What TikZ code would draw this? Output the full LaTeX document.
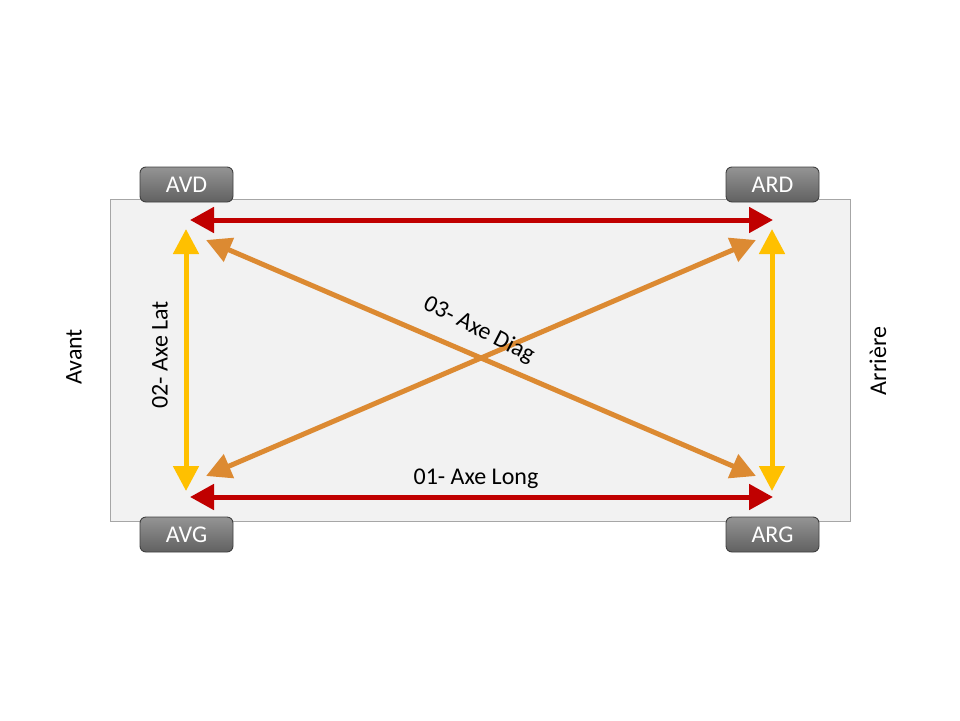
\documentclass[tikz,border=0pt]{standalone}
\usepackage{fontspec}
\setmainfont{Carlito}
\usetikzlibrary{arrows.meta}
\definecolor{redax}{HTML}{C00000}
\definecolor{yelax}{HTML}{FFC000}
\definecolor{orax}{HTML}{DC8A32}
\definecolor{bodyfill}{HTML}{F2F2F2}
\definecolor{bodyline}{HTML}{A6A6A6}
\begin{document}
\begin{tikzpicture}[x=1pt,y=-1pt,
  font=\fontsize{24}{28}\selectfont,
  wheel/.style={draw=black!75,line width=0.9pt,rounded corners=6pt,top color=black!42,bottom color=black!62,
    minimum width=93pt,minimum height=35pt,inner sep=0pt,text=white},
  axr/.style={draw=redax,line width=5pt,{Triangle[length=24pt,width=25pt]}-{Triangle[length=24pt,width=25pt]}},
  axy/.style={draw=yelax,line width=5pt,{Triangle[length=25pt,width=25pt]}-{Triangle[length=25pt,width=25pt]}},
  axo/.style={draw=orax,line width=5pt,{Triangle[length=25pt,width=25pt]}-{Triangle[length=25pt,width=25pt]}},
  lbl/.style={inner sep=0pt,text=black}]
\useasboundingbox (0,0) rectangle (960,720);
\node[draw=bodyline,fill=bodyfill,line width=0.8pt,minimum width=740pt,minimum height=322pt,inner sep=0pt] (body) at (480,360) {};
\node[wheel] (avd) at (186.5,184.5) {AVD};
\node[wheel] (ard) at (772.5,184.5) {ARD};
\node[wheel] (avg) at (186.5,534.5) {AVG};
\node[wheel] (arg) at (772.5,534.5) {ARG};
\coordinate (r1a) at (190,220); \coordinate (r1b) at (773,220);
\coordinate (r2a) at (190,497); \coordinate (r2b) at (773,497);
\coordinate (y1a) at (186,229); \coordinate (y1b) at (186,491);
\coordinate (y2a) at (772,229); \coordinate (y2b) at (772,491);
\coordinate (o1a) at (206,240); \coordinate (o1b) at (756,476);
\coordinate (o2a) at (206,476); \coordinate (o2b) at (756,240);
\draw[axo] (o1a) -- (o1b);
\draw[axo] (o2a) -- (o2b);
\draw[axy] (y1a) -- (y1b);
\draw[axy] (y2a) -- (y2b);
\draw[axr] (r1a) -- (r1b);
\draw[axr] (r2a) -- (r2b);
\node[lbl] (long) at (476,479) {01- Axe Long};
\node[lbl,rotate=90] (lat) at (160,355) {02- Axe Lat};
\node[lbl,rotate=-27] (diag) at (479,330) {03- Axe Diag};
\node[lbl,rotate=90] (avant) at (74,357) {Avant};
\node[lbl,rotate=90] (arriere) at (878,361) {Arrière};
\end{tikzpicture}
\end{document}
